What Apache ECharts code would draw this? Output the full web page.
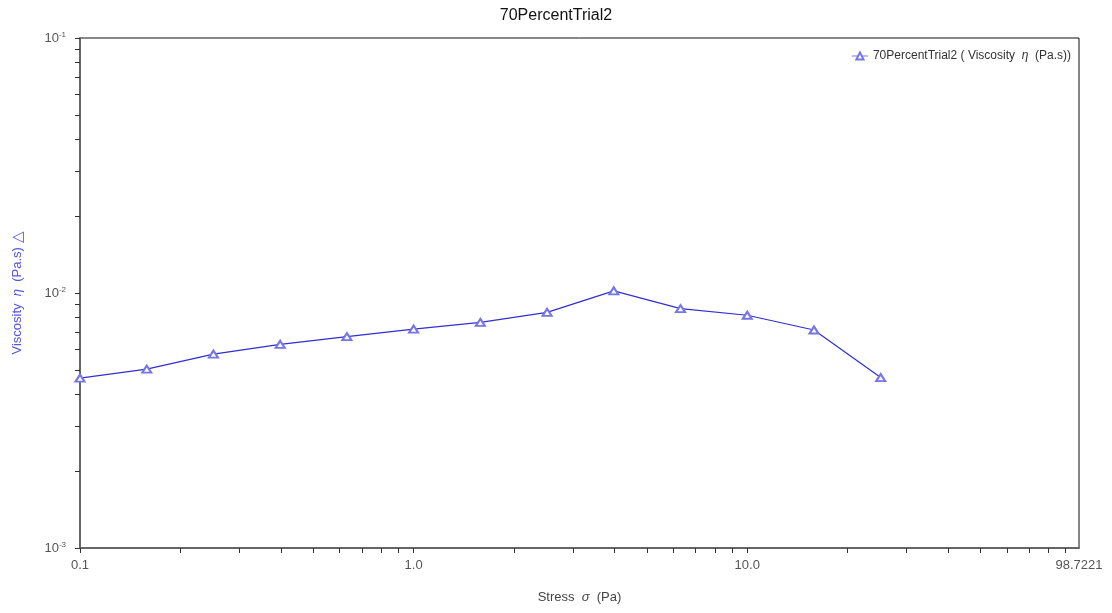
<!DOCTYPE html>
<html>
<head>
<meta charset="utf-8">
<script src="https://cdn.jsdelivr.net/npm/echarts@6/dist/echarts.min.js"></script>
<style>
  html, body { margin: 0; padding: 0; background: #fff; }
  #chart { width: 1112px; height: 613px; }
</style>
</head>
<body>
<div id="chart"></div>
<script>
// stress (Pa) and viscosity (Pa.s)
const stress = [0.1, 0.1585, 0.2512, 0.3981, 0.631, 1.0, 1.585, 2.512, 3.981, 6.31, 10.0, 15.85, 25.12]
const viscosity = [0.00464, 0.00503, 0.00576, 0.00629, 0.00674, 0.00722, 0.00767, 0.0084, 0.0102, 0.00868, 0.00818, 0.00716, 0.00466]

const xMin = 0.1
const xMax = 98.7221
const yMin = 0.001
const yMax = 0.1
const xLabelValues = [0.1, 1, 10, 98.7221]
const yLabelValues = [0.001, 0.01, 0.1]

// minor tick values: 1..9 times each decade
const decadeTicks = (lo, hi) => {
  const out = []
  for (let e = Math.floor(Math.log10(lo)); e <= Math.ceil(Math.log10(hi)); e++) {
    for (let m = 1; m < 10; m++) {
      const v = +(m * Math.pow(10, e)).toPrecision(6)
      if (v >= lo && v <= hi) out.push(v)
    }
  }
  return out
}

const font = "'Liberation Sans', Arial, sans-serif"
const lineColor = '#2f2fd4'
const markColor = '#7676e4'

const chart = echarts.init(document.getElementById('chart'))

chart.setOption({
  animation: false,
  title: {
    text: '70PercentTrial2',
    left: 'center',
    top: 3,
    textStyle: { fontFamily: font, fontSize: 16, fontWeight: 'normal', color: '#111' },
  },
  legend: {
    right: 36,
    top: 45,
    itemWidth: 16,
    itemHeight: 9,
    itemGap: 4,
    lineStyle: { color: markColor, width: 1, type: 'solid' },
    formatter: () => '70PercentTrial2 ( Viscosity  {i|η}  (Pa.s))',
    textStyle: {
      fontFamily: font,
      fontSize: 12,
      color: '#333',
      rich: { i: { fontStyle: 'italic', fontFamily: font, fontSize: 12, color: '#333' } },
    },
  },
  grid: {
    left: 80,
    right: 33,
    top: 38,
    bottom: 65,
    show: true,
    borderColor: '#111',
    borderWidth: 1,
  },
  xAxis: {
    type: 'log',
    min: xMin,
    max: xMax,
    name: 'Stress  {i|σ}  (Pa)',
    nameLocation: 'middle',
    nameGap: 43,
    nameTextStyle: {
      fontFamily: font,
      fontSize: 13,
      color: '#444',
      rich: { i: { fontStyle: 'italic', fontFamily: font, fontSize: 13, color: '#444' } },
    },
    axisLine: { lineStyle: { color: '#666', width: 2 } },
    axisTick: { inside: false, length: 5, customValues: decadeTicks(xMin, xMax), lineStyle: { color: '#333' } },
    axisLabel: {
      customValues: xLabelValues,
      margin: 11,
      fontFamily: font,
      fontSize: 13,
      color: '#555',
      formatter: (v) => (Math.abs(v - xMax) < 1e-6 ? String(xMax) : v.toFixed(1)),
    },
    splitLine: { show: false },
  },
  yAxis: {
    type: 'log',
    min: yMin,
    max: yMax,
    name: 'Viscosity  {i|η}  (Pa.s) {t|△}',
    nameLocation: 'middle',
    nameGap: 55,
    nameTextStyle: {
      fontFamily: font,
      fontSize: 13,
      color: '#5555e0',
      rich: {
        i: { fontStyle: 'italic', fontFamily: font, fontSize: 13, color: '#5555e0' },
        t: { fontFamily: font, fontSize: 15, color: '#5555e0' },
      },
    },
    axisLine: { lineStyle: { color: '#666', width: 2 } },
    axisTick: { inside: false, length: 5, customValues: decadeTicks(yMin, yMax), lineStyle: { color: '#333' } },
    axisLabel: {
      customValues: yLabelValues,
      margin: 14,
      fontFamily: font,
      color: '#555',
      formatter: (v) => '{b|10}{s|' + Math.round(Math.log10(v)) + '}',
      rich: {
        b: { fontFamily: font, fontSize: 13, color: '#555', lineHeight: 15 },
        s: { fontFamily: font, fontSize: 8, color: '#555', lineHeight: 8, verticalAlign: 'top' },
      },
    },
    splitLine: { show: false },
  },
  series: [
    {
      name: '70PercentTrial2',
      type: 'line',
      data: stress.map((s, i) => [s, viscosity[i]]),
      symbol: 'emptyTriangle',
      symbolSize: [9, 7],
      showAllSymbol: true,
      lineStyle: { color: lineColor, width: 1.2 },
      itemStyle: { color: markColor, borderColor: markColor, borderWidth: 1.2 },
      emphasis: { disabled: true },
    },
  ],
})
</script>
</body>
</html>
